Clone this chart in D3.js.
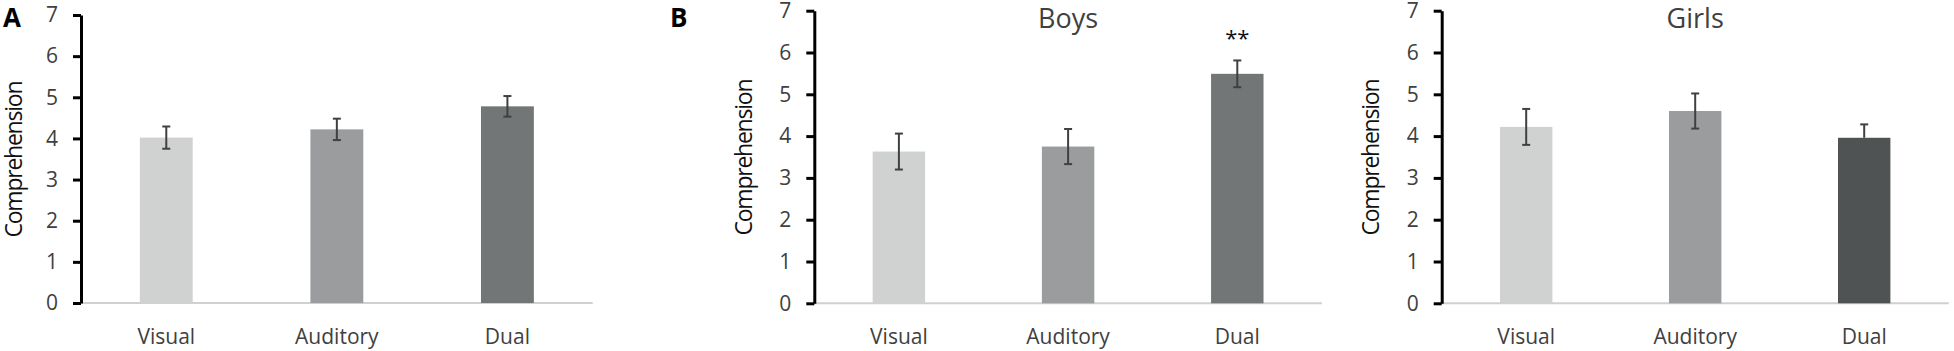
<!DOCTYPE html>
<html>
<head>
<meta charset="utf-8">
<script src="https://cdn.jsdelivr.net/npm/d3@7"></script>
<style>
  body { margin: 0; background: #fff; }
  text { font-family: "Open Sans", sans-serif; }
</style>
</head>
<body>
<svg id="chart"></svg>
<script>
// data
const conditions = ["Visual", "Auditory", "Dual"];
const yTicks = [0, 1, 2, 3, 4, 5, 6, 7];

const allMeans = [4.02, 4.22, 4.78];
const allErrHi = [0.27, 0.26, 0.25];
const allErrLo = [0.27, 0.26, 0.25];

const boysMeans = [3.63, 3.75, 5.49];
const boysErrHi = [0.43, 0.42, 0.32];
const boysErrLo = [0.43, 0.42, 0.32];
const boysMarks = ["", "", "**"];

const girlsMeans = [4.22, 4.6, 3.96];
const girlsErrHi = [0.43, 0.42, 0.32];
const girlsErrLo = [0.43, 0.42, 0];

const W = 1954, H = 351;
const svg = d3.select("#chart").attr("width", W).attr("height", H);

const textColor = "#404040";

function panel(opts) {
  const { x0, x1, yTop, yBottom, means, errHi, errLo, colors, title, marks, labelX } = opts;

  const x = d3.scaleBand()
    .domain(conditions)
    .range([x0, x1])
    .paddingInner(0.69)
    .paddingOuter(0.345);

  const y = d3.scaleLinear().domain([0, 7]).range([yBottom, yTop]);

  const g = svg.append("g");

  // baseline
  g.append("line")
    .attr("x1", x0).attr("x2", x1)
    .attr("y1", y(0)).attr("y2", y(0))
    .attr("stroke", "#d0d0d0").attr("stroke-width", 2);

  // bars
  g.selectAll("rect.bar")
    .data(conditions)
    .join("rect")
    .attr("class", "bar")
    .attr("x", d => x(d))
    .attr("width", x.bandwidth())
    .attr("y", (d, i) => y(means[i]))
    .attr("height", (d, i) => y(0) - y(means[i]))
    .attr("fill", (d, i) => colors[i]);

  // error bars
  const cap = 4;
  const eb = g.selectAll("g.err")
    .data(conditions)
    .join("g")
    .attr("class", "err")
    .attr("stroke", "#404040")
    .attr("stroke-width", 2);
  eb.append("line")
    .attr("x1", d => x(d) + x.bandwidth() / 2)
    .attr("x2", d => x(d) + x.bandwidth() / 2)
    .attr("y1", (d, i) => y(means[i] - errLo[i]))
    .attr("y2", (d, i) => y(means[i] + errHi[i]));
  eb.append("line")
    .attr("x1", d => x(d) + x.bandwidth() / 2 - cap)
    .attr("x2", d => x(d) + x.bandwidth() / 2 + cap)
    .attr("y1", (d, i) => y(means[i] + errHi[i]))
    .attr("y2", (d, i) => y(means[i] + errHi[i]));
  eb.filter((d, i) => errLo[i] > 0).append("line")
    .attr("x1", d => x(d) + x.bandwidth() / 2 - cap)
    .attr("x2", d => x(d) + x.bandwidth() / 2 + cap)
    .attr("y1", (d, i) => y(means[i] - errLo[i]))
    .attr("y2", (d, i) => y(means[i] - errLo[i]));

  // significance marks
  if (marks) {
    g.selectAll("text.mark")
      .data(conditions)
      .join("text")
      .attr("class", "mark")
      .attr("x", d => x(d) + x.bandwidth() / 2)
      .attr("y", (d, i) => y(means[i] + errHi[i]) - 14)
      .attr("text-anchor", "middle")
      .attr("font-size", 22)
      .attr("fill", "#111")
      .text((d, i) => marks[i]);
  }

  // y axis
  const yAxis = g.append("g")
    .attr("transform", `translate(${x0},0)`)
    .call(d3.axisLeft(y).tickValues(yTicks).tickFormat(d3.format("d"))
      .tickSize(8).tickPadding(15).tickSizeOuter(0));
  yAxis.select(".domain").attr("stroke", "#000").attr("stroke-width", 3);
  yAxis.selectAll(".tick line").attr("stroke", "#000").attr("stroke-width", 3);
  yAxis.selectAll(".tick text")
    .attr("font-size", 21)
    .attr("font-family", "Open Sans, sans-serif")
    .attr("fill", textColor);

  // x axis labels
  const xAxis = g.append("g")
    .attr("transform", `translate(0,${y(0)})`)
    .call(d3.axisBottom(x).tickSize(0).tickPadding(26));
  xAxis.select(".domain").remove();
  xAxis.selectAll(".tick text")
    .attr("font-size", 21)
    .attr("font-family", "Open Sans, sans-serif")
    .attr("fill", textColor);

  // y axis title
  g.append("text")
    .attr("transform", `translate(${labelX},${(yTop + yBottom) / 2}) rotate(-90)`)
    .attr("text-anchor", "middle")
    .attr("dy", "0.35em")
    .attr("font-size", 23)
    .attr("textLength", 157)
    .attr("lengthAdjust", "spacing")
    .attr("fill", "#111")
    .text("Comprehension");

  if (title) {
    g.append("text")
      .attr("x", (x0 + x1) / 2)
      .attr("y", 28)
      .attr("text-anchor", "middle")
      .attr("font-size", 27)
      .attr("fill", textColor)
      .text(title);
  }
}

panel({
  x0: 81, x1: 592.7, yTop: 15, yBottom: 303,
  means: allMeans, errHi: allErrHi, errLo: allErrLo,
  colors: ["#d0d2d1", "#9a9c9d", "#727677"],
  labelX: 13.5
});

panel({
  x0: 814.3, x1: 1321.9, yTop: 10.7, yBottom: 303.3,
  means: boysMeans, errHi: boysErrHi, errLo: boysErrLo,
  colors: ["#d0d2d1", "#9a9c9d", "#727677"],
  title: "Boys", marks: boysMarks,
  labelX: 744
});

panel({
  x0: 1441.7, x1: 1948.7, yTop: 10.7, yBottom: 303.3,
  means: girlsMeans, errHi: girlsErrHi, errLo: girlsErrLo,
  colors: ["#d0d2d1", "#9a9c9d", "#505354"],
  title: "Girls",
  labelX: 1370.5
});

// panel letters
svg.append("text").attr("x", 3).attr("y", 27)
  .attr("font-size", 26).attr("font-weight", "bold").attr("fill", "#000")
  .text("A");
svg.append("text").attr("x", 670).attr("y", 27)
  .attr("font-size", 26).attr("font-weight", "bold").attr("fill", "#000")
  .text("B");
</script>
</body>
</html>
